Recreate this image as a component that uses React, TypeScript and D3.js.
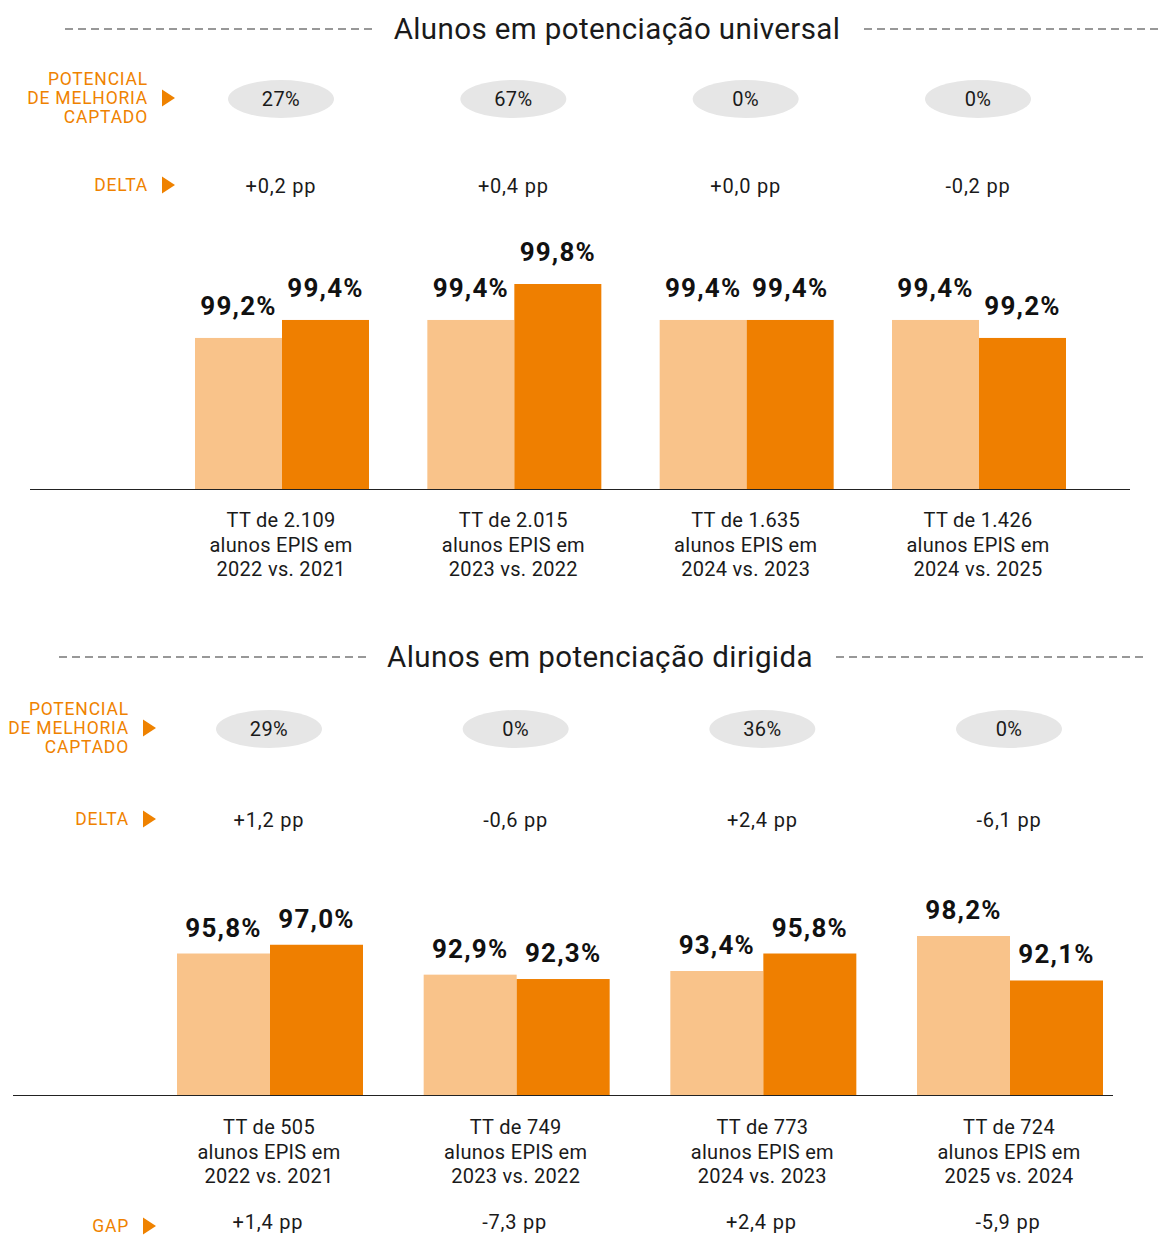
import React, { useEffect, useRef } from 'react';
import * as d3 from 'd3';

// panel 1 - potenciação universal
const uniCategories = ['TT de 2.109|alunos EPIS em|2022 vs. 2021', 'TT de 2.015|alunos EPIS em|2023 vs. 2022', 'TT de 1.635|alunos EPIS em|2024 vs. 2023', 'TT de 1.426|alunos EPIS em|2024 vs. 2025'];
const uniBefore = [99.2, 99.4, 99.4, 99.4];
const uniAfter = [99.4, 99.8, 99.4, 99.2];
const uniPotencial = ['27%', '67%', '0%', '0%'];
const uniDelta = ['+0,2 pp', '+0,4 pp', '+0,0 pp', '-0,2 pp'];

// panel 2 - potenciação dirigida
const dirCategories = ['TT de 505|alunos EPIS em|2022 vs. 2021', 'TT de 749|alunos EPIS em|2023 vs. 2022', 'TT de 773|alunos EPIS em|2024 vs. 2023', 'TT de 724|alunos EPIS em|2025 vs. 2024'];
const dirBefore = [95.8, 92.9, 93.4, 98.2];
const dirAfter = [97.0, 92.3, 95.8, 92.1];
const dirPotencial = ['29%', '0%', '36%', '0%'];
const dirDelta = ['+1,2 pp', '-0,6 pp', '+2,4 pp', '-6,1 pp'];
const dirGap = ['+1,4 pp', '-7,3 pp', '+2,4 pp', '-5,9 pp'];

const LIGHT = '#F9C38A';
const DARK = '#EF7F00';
const ORANGE = '#EF8200';
const TEXT = '#1a1a1a';
const FONT = 'Roboto, "Open Sans", sans-serif';

const fmt = (v: number) => v.toFixed(1).replace('.', ',') + '%';

const App = () => {
  const svgRef = useRef<SVGSVGElement>(null);

  useEffect(() => {
    const svg = d3.select(svgRef.current);
    svg.selectAll('*').remove();
    svg.style('font-family', FONT);

    const panels = [
      {
        title: 'Alunos em potenciação universal', titleX: 617, titleY: 29,
        dashL: [65, 372], dashR: [864, 1160],
        labelRight: 148, potY: 99, deltaY: 186,
        xRange: [282, 979], barW: 87, baseY: 489, axis: [30, 1130],
        yDomain: [97.52, 99.8], yTop: 284, labelOff: 23,
        cats: uniCategories, before: uniBefore, after: uniAfter,
        pot: uniPotencial, delta: uniDelta, gap: null as string[] | null, catY: 520,
      },
      {
        title: 'Alunos em potenciação dirigida', titleX: 600, titleY: 657,
        dashL: [59, 366], dashR: [836, 1143],
        labelRight: 129, potY: 729, deltaY: 820,
        xRange: [270, 1010], barW: 93, baseY: 1095, axis: [13, 1113],
        yDomain: [76.4, 98.2], yTop: 936, labelOff: 17,
        cats: dirCategories, before: dirBefore, after: dirAfter,
        pot: dirPotencial, delta: dirDelta, gap: dirGap, catY: 1127,
      },
    ];

    panels.forEach(p => {
      const g = svg.append('g');

      // title with dashed rules
      g.append('text')
        .attr('x', p.titleX).attr('y', p.titleY)
        .attr('dy', '0.35em')
        .attr('text-anchor', 'middle')
        .attr('font-size', 29.5)
        .attr('letter-spacing', 0.4)
        .attr('fill', TEXT)
        .text(p.title);
      [p.dashL, p.dashR].forEach(d => {
        g.append('line')
          .attr('x1', d[0]).attr('x2', d[1])
          .attr('y1', p.titleY).attr('y2', p.titleY)
          .attr('stroke', '#333').attr('stroke-width', 1.2)
          .attr('stroke-dasharray', '8,5');
      });

      const x = d3.scalePoint<number>().domain(d3.range(p.cats.length)).range(p.xRange as [number, number]);
      const y = d3.scaleLinear().domain(p.yDomain).range([p.baseY, p.yTop]);

      // row labels with triangles
      const rowLabel = (lines: string[], cy: number) => {
        const lh = 19;
        const t = g.append('text')
          .attr('text-anchor', 'end')
          .attr('font-size', 17.5)
          .attr('letter-spacing', 0.8)
          .attr('fill', ORANGE);
        lines.forEach((l, i) => {
          t.append('tspan')
            .attr('x', p.labelRight)
            .attr('y', cy + (i - (lines.length - 1) / 2) * lh)
            .attr('dy', '0.35em')
            .text(l);
        });
        const tx = p.labelRight + 14;
        g.append('path')
          .attr('d', `M${tx},${cy - 8.5}L${tx + 13},${cy}L${tx},${cy + 8.5}Z`)
          .attr('fill', ORANGE);
      };
      rowLabel(['POTENCIAL', 'DE MELHORIA', 'CAPTADO'], p.potY - 1);
      rowLabel(['DELTA'], p.deltaY - 1);
      if (p.gap) rowLabel(['GAP'], 1226);

      // pills
      p.pot.forEach((v, i) => {
        const cx = x(i)! - 1;
        g.append('ellipse')
          .attr('cx', cx).attr('cy', p.potY)
          .attr('rx', 53).attr('ry', 19)
          .attr('fill', '#E6E6E6');
        g.append('text')
          .attr('x', cx).attr('y', p.potY)
          .attr('dy', '0.35em')
          .attr('text-anchor', 'middle')
          .attr('font-size', 20)
          .attr('letter-spacing', 0.4)
          .attr('fill', TEXT)
          .text(v);
      });

      // delta values
      p.delta.forEach((v, i) => {
        g.append('text')
          .attr('x', x(i)! - 1).attr('y', p.deltaY)
          .attr('dy', '0.35em')
          .attr('text-anchor', 'middle')
          .attr('font-size', 20)
          .attr('letter-spacing', 0.8)
          .attr('fill', TEXT)
          .text(v);
      });

      // bars
      const series = [
        { vals: p.before, color: LIGHT, off: -p.barW },
        { vals: p.after, color: DARK, off: 0 },
      ];
      series.forEach(s => {
        s.vals.forEach((v, i) => {
          const bx = x(i)! + s.off;
          g.append('rect')
            .attr('x', bx).attr('y', y(v))
            .attr('width', p.barW).attr('height', p.baseY - y(v))
            .attr('fill', s.color);
          g.append('text')
            .attr('x', bx + p.barW / 2).attr('y', y(v) - p.labelOff)
            .attr('text-anchor', 'middle')
            .attr('font-size', 26)
            .attr('font-weight', 'bold')
            .attr('letter-spacing', 1.2)
            .attr('fill', '#111')
            .text(fmt(v));
        });
      });

      // baseline
      g.append('line')
        .attr('x1', p.axis[0]).attr('x2', p.axis[1])
        .attr('y1', p.baseY + 0.5).attr('y2', p.baseY + 0.5)
        .attr('stroke', '#222').attr('stroke-width', 1.2);

      // category labels
      p.cats.forEach((c, i) => {
        const t = g.append('text')
          .attr('text-anchor', 'middle')
          .attr('font-size', 20)
          .attr('letter-spacing', 0.3)
          .attr('fill', TEXT);
        c.split('|').forEach((l, j) => {
          t.append('tspan')
            .attr('x', x(i)! - 1)
            .attr('y', p.catY + j * 24.5)
            .attr('dy', '0.35em')
            .text(l);
        });
      });

      // gap row
      if (p.gap) {
        p.gap.forEach((v, i) => {
          g.append('text')
            .attr('x', x(i)! - 2).attr('y', 1222)
            .attr('dy', '0.35em')
            .attr('text-anchor', 'middle')
            .attr('font-size', 20)
            .attr('letter-spacing', 0.8)
            .attr('fill', TEXT)
            .text(v);
        });
      }
    });
  }, []);

  return (
    <div style={{ position: 'absolute', left: 0, top: 0, background: '#fff' }}>
      <svg ref={svgRef} width={1160} height={1235} style={{ display: 'block' }}></svg>
    </div>
  );
};

export default App;
